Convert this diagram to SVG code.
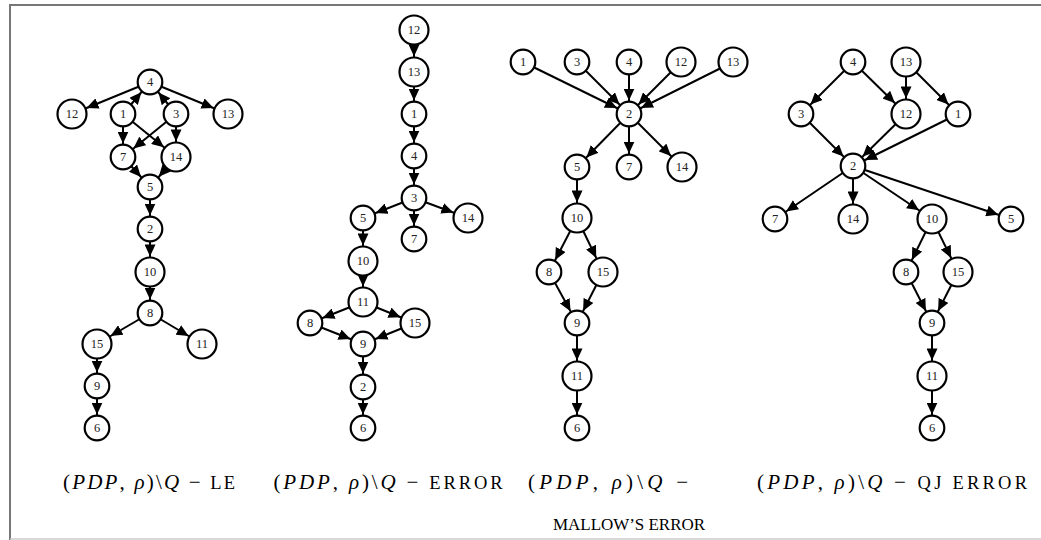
<svg xmlns="http://www.w3.org/2000/svg" width="1041" height="540" viewBox="0 0 1041 540">
<style>
.n circle{fill:#fff;stroke:#000;stroke-width:2.2}
.n text{font-family:"Liberation Serif",serif;font-size:12.5px;text-anchor:middle;fill:#222}
.e line{stroke:#000;stroke-width:2}
.es{marker-end:url(#as)}
.ed{marker-end:url(#ad)}
.cap{font-family:"Liberation Serif",serif;font-size:21px;text-anchor:middle;fill:#000}
.it{font-style:italic}
.sc{font-size:18.5px}
.sc2{font-size:17px}
</style>
<defs>
<marker id="as" markerUnits="userSpaceOnUse" markerWidth="13" markerHeight="11" refX="25.4" refY="5.5" orient="auto"><path d="M0,0 L12,5.5 L0,11 z" fill="#000"/></marker>
<marker id="ad" markerUnits="userSpaceOnUse" markerWidth="13" markerHeight="11" refX="27.6" refY="5.5" orient="auto"><path d="M0,0 L12,5.5 L0,11 z" fill="#000"/></marker>
</defs>
<rect width="1041" height="540" fill="#fff"/>
<g id="frame" fill="none">
<line x1="9" y1="5" x2="1041" y2="5" stroke="#777" stroke-width="1.8"/>
<line x1="10" y1="5" x2="10" y2="540" stroke="#777" stroke-width="2"/>
<line x1="10" y1="539" x2="1041" y2="539" stroke="#ccc" stroke-width="1.5"/>
</g>
<g id="connectors" class="e">
<!-- graph 1 -->
<line class="ed" x1="150" y1="82" x2="72" y2="114"/>
<line class="ed" x1="150" y1="82" x2="228" y2="114"/>
<line class="es" x1="123" y1="114" x2="150" y2="82"/>
<line class="es" x1="176" y1="114" x2="150" y2="82"/>
<line class="es" x1="123" y1="114" x2="123" y2="157"/>
<line class="ed" x1="123" y1="114" x2="176" y2="157"/>
<line class="es" x1="176" y1="114" x2="123" y2="157"/>
<line class="ed" x1="176" y1="114" x2="176" y2="157"/>
<line class="es" x1="123" y1="157" x2="150" y2="187"/>
<line class="es" x1="176" y1="157" x2="150" y2="187"/>
<line class="es" x1="150" y1="187" x2="150" y2="229"/>
<line class="ed" x1="150" y1="229" x2="150" y2="272"/>
<line class="es" x1="150" y1="272" x2="150" y2="313"/>
<line class="ed" x1="150" y1="313" x2="97" y2="344"/>
<line class="ed" x1="150" y1="313" x2="202" y2="344"/>
<line class="es" x1="97" y1="344" x2="97" y2="386"/>
<line class="es" x1="97" y1="386" x2="97" y2="428"/>
<!-- graph 2 -->
<line class="ed" x1="414" y1="30" x2="414" y2="72"/>
<line class="es" x1="414" y1="72" x2="414" y2="114"/>
<line class="es" x1="414" y1="114" x2="414" y2="156"/>
<line class="es" x1="414" y1="156" x2="414" y2="198"/>
<line class="es" x1="414" y1="198" x2="363" y2="218"/>
<line class="es" x1="414" y1="198" x2="414" y2="239"/>
<line class="ed" x1="414" y1="198" x2="468" y2="218"/>
<line class="ed" x1="363" y1="218" x2="363" y2="261"/>
<line class="ed" x1="363" y1="261" x2="363" y2="302"/>
<line class="es" x1="363" y1="302" x2="310" y2="323"/>
<line class="ed" x1="363" y1="302" x2="415" y2="323"/>
<line class="es" x1="310" y1="323" x2="363" y2="344"/>
<line class="es" x1="415" y1="323" x2="363" y2="344"/>
<line class="es" x1="363" y1="344" x2="363" y2="387"/>
<line class="es" x1="363" y1="387" x2="363" y2="428"/>
<!-- graph 3 -->
<line class="es" x1="523" y1="62" x2="629" y2="114"/>
<line class="es" x1="577" y1="62" x2="629" y2="114"/>
<line class="es" x1="629" y1="62" x2="629" y2="114"/>
<line class="es" x1="681" y1="62" x2="629" y2="114"/>
<line class="es" x1="733" y1="62" x2="629" y2="114"/>
<line class="es" x1="629" y1="114" x2="577" y2="167"/>
<line class="es" x1="629" y1="114" x2="629" y2="167"/>
<line class="ed" x1="629" y1="114" x2="682" y2="167"/>
<line class="ed" x1="577" y1="167" x2="577" y2="218"/>
<line class="es" x1="577" y1="218" x2="549" y2="272"/>
<line class="ed" x1="577" y1="218" x2="603" y2="272"/>
<line class="es" x1="549" y1="272" x2="577" y2="323"/>
<line class="es" x1="603" y1="272" x2="577" y2="323"/>
<line class="ed" x1="577" y1="323" x2="577" y2="376"/>
<line class="es" x1="577" y1="376" x2="577" y2="428"/>
<!-- graph 4 -->
<line class="es" x1="853" y1="62" x2="801" y2="114"/>
<line class="ed" x1="853" y1="62" x2="906" y2="114"/>
<line class="ed" x1="906" y1="62" x2="906" y2="114"/>
<line class="es" x1="906" y1="62" x2="958" y2="114"/>
<line class="es" x1="801" y1="114" x2="853" y2="166"/>
<line class="es" x1="906" y1="114" x2="853" y2="166"/>
<line class="es" x1="958" y1="114" x2="853" y2="166"/>
<line class="es" x1="853" y1="166" x2="775" y2="219"/>
<line class="ed" x1="853" y1="166" x2="853" y2="219"/>
<line class="ed" x1="853" y1="166" x2="932" y2="219"/>
<line class="es" x1="853" y1="166" x2="1011" y2="219"/>
<line class="es" x1="932" y1="219" x2="906" y2="272"/>
<line class="ed" x1="932" y1="219" x2="958" y2="272"/>
<line class="es" x1="906" y1="272" x2="932" y2="323"/>
<line class="es" x1="958" y1="272" x2="932" y2="323"/>
<line class="ed" x1="932" y1="323" x2="932" y2="376"/>
<line class="es" x1="932" y1="376" x2="932" y2="428"/>
</g>
<!-- graph 1 nodes -->
<g id="g1-4" class="n"><circle cx="150" cy="82" r="12.3"/><text x="150" y="86">4</text></g>
<g id="g1-12" class="n"><circle cx="72" cy="114" r="14.5"/><text x="72" y="118">12</text></g>
<g id="g1-1" class="n"><circle cx="123" cy="114" r="12.3"/><text x="123" y="118">1</text></g>
<g id="g1-3" class="n"><circle cx="176" cy="114" r="12.3"/><text x="176" y="118">3</text></g>
<g id="g1-13" class="n"><circle cx="228" cy="114" r="14.5"/><text x="228" y="118">13</text></g>
<g id="g1-7" class="n"><circle cx="123" cy="157" r="12.3"/><text x="123" y="161">7</text></g>
<g id="g1-14" class="n"><circle cx="176" cy="157" r="14.5"/><text x="176" y="161">14</text></g>
<g id="g1-5" class="n"><circle cx="150" cy="187" r="12.3"/><text x="150" y="191">5</text></g>
<g id="g1-2" class="n"><circle cx="150" cy="229" r="12.3"/><text x="150" y="233">2</text></g>
<g id="g1-10" class="n"><circle cx="150" cy="272" r="14.5"/><text x="150" y="276">10</text></g>
<g id="g1-8" class="n"><circle cx="150" cy="313" r="12.3"/><text x="150" y="317">8</text></g>
<g id="g1-15" class="n"><circle cx="97" cy="344" r="14.5"/><text x="97" y="348">15</text></g>
<g id="g1-11" class="n"><circle cx="202" cy="344" r="14.5"/><text x="202" y="348">11</text></g>
<g id="g1-9" class="n"><circle cx="97" cy="386" r="12.3"/><text x="97" y="390">9</text></g>
<g id="g1-6" class="n"><circle cx="97" cy="428" r="12.3"/><text x="97" y="432">6</text></g>
<!-- graph 2 nodes -->
<g id="g2-12" class="n"><circle cx="414" cy="30" r="14.5"/><text x="414" y="34">12</text></g>
<g id="g2-13" class="n"><circle cx="414" cy="72" r="14.5"/><text x="414" y="76">13</text></g>
<g id="g2-1" class="n"><circle cx="414" cy="114" r="12.3"/><text x="414" y="118">1</text></g>
<g id="g2-4" class="n"><circle cx="414" cy="156" r="12.3"/><text x="414" y="160">4</text></g>
<g id="g2-3" class="n"><circle cx="414" cy="198" r="12.3"/><text x="414" y="202">3</text></g>
<g id="g2-5" class="n"><circle cx="363" cy="218" r="12.3"/><text x="363" y="222">5</text></g>
<g id="g2-14" class="n"><circle cx="468" cy="218" r="14.5"/><text x="468" y="222">14</text></g>
<g id="g2-7" class="n"><circle cx="414" cy="239" r="12.3"/><text x="414" y="243">7</text></g>
<g id="g2-10" class="n"><circle cx="363" cy="261" r="14.5"/><text x="363" y="265">10</text></g>
<g id="g2-11" class="n"><circle cx="363" cy="302" r="14.5"/><text x="363" y="306">11</text></g>
<g id="g2-8" class="n"><circle cx="310" cy="323" r="12.3"/><text x="310" y="327">8</text></g>
<g id="g2-15" class="n"><circle cx="415" cy="323" r="14.5"/><text x="415" y="327">15</text></g>
<g id="g2-9" class="n"><circle cx="363" cy="344" r="12.3"/><text x="363" y="348">9</text></g>
<g id="g2-2" class="n"><circle cx="363" cy="387" r="12.3"/><text x="363" y="391">2</text></g>
<g id="g2-6" class="n"><circle cx="363" cy="428" r="12.3"/><text x="363" y="432">6</text></g>
<!-- graph 3 nodes -->
<g id="g3-1" class="n"><circle cx="523" cy="62" r="12.3"/><text x="523" y="66">1</text></g>
<g id="g3-3" class="n"><circle cx="577" cy="62" r="12.3"/><text x="577" y="66">3</text></g>
<g id="g3-4" class="n"><circle cx="629" cy="62" r="12.3"/><text x="629" y="66">4</text></g>
<g id="g3-12" class="n"><circle cx="681" cy="62" r="14.5"/><text x="681" y="66">12</text></g>
<g id="g3-13" class="n"><circle cx="733" cy="62" r="14.5"/><text x="733" y="66">13</text></g>
<g id="g3-2" class="n"><circle cx="629" cy="114" r="12.3"/><text x="629" y="118">2</text></g>
<g id="g3-5" class="n"><circle cx="577" cy="167" r="12.3"/><text x="577" y="171">5</text></g>
<g id="g3-7" class="n"><circle cx="629" cy="167" r="12.3"/><text x="629" y="171">7</text></g>
<g id="g3-14" class="n"><circle cx="682" cy="167" r="14.5"/><text x="682" y="171">14</text></g>
<g id="g3-10" class="n"><circle cx="577" cy="218" r="14.5"/><text x="577" y="222">10</text></g>
<g id="g3-8" class="n"><circle cx="549" cy="272" r="12.3"/><text x="549" y="276">8</text></g>
<g id="g3-15" class="n"><circle cx="603" cy="272" r="14.5"/><text x="603" y="276">15</text></g>
<g id="g3-9" class="n"><circle cx="577" cy="323" r="12.3"/><text x="577" y="327">9</text></g>
<g id="g3-11" class="n"><circle cx="577" cy="376" r="14.5"/><text x="577" y="380">11</text></g>
<g id="g3-6" class="n"><circle cx="577" cy="428" r="12.3"/><text x="577" y="432">6</text></g>
<!-- graph 4 nodes -->
<g id="g4-4" class="n"><circle cx="853" cy="62" r="12.3"/><text x="853" y="66">4</text></g>
<g id="g4-13" class="n"><circle cx="906" cy="62" r="14.5"/><text x="906" y="66">13</text></g>
<g id="g4-3" class="n"><circle cx="801" cy="114" r="12.3"/><text x="801" y="118">3</text></g>
<g id="g4-12" class="n"><circle cx="906" cy="114" r="14.5"/><text x="906" y="118">12</text></g>
<g id="g4-1" class="n"><circle cx="958" cy="114" r="12.3"/><text x="958" y="118">1</text></g>
<g id="g4-2" class="n"><circle cx="853" cy="166" r="12.3"/><text x="853" y="170">2</text></g>
<g id="g4-7" class="n"><circle cx="775" cy="219" r="12.3"/><text x="775" y="223">7</text></g>
<g id="g4-14" class="n"><circle cx="853" cy="219" r="14.5"/><text x="853" y="223">14</text></g>
<g id="g4-10" class="n"><circle cx="932" cy="219" r="14.5"/><text x="932" y="223">10</text></g>
<g id="g4-5" class="n"><circle cx="1011" cy="219" r="12.3"/><text x="1011" y="223">5</text></g>
<g id="g4-8" class="n"><circle cx="906" cy="272" r="12.3"/><text x="906" y="276">8</text></g>
<g id="g4-15" class="n"><circle cx="958" cy="272" r="14.5"/><text x="958" y="276">15</text></g>
<g id="g4-9" class="n"><circle cx="932" cy="323" r="12.3"/><text x="932" y="327">9</text></g>
<g id="g4-11" class="n"><circle cx="932" cy="376" r="14.5"/><text x="932" y="380">11</text></g>
<g id="g4-6" class="n"><circle cx="932" cy="428" r="12.3"/><text x="932" y="432">6</text></g>
<g id="captions" class="cap">
<text x="149" y="489" textLength="172" lengthAdjust="spacing">(<tspan class="it">PDP</tspan>, <tspan class="it">ρ</tspan>)\<tspan class="it">Q</tspan> − <tspan class="sc">LE</tspan></text>
<text x="388" y="489" textLength="229" lengthAdjust="spacing">(<tspan class="it">PDP</tspan>, <tspan class="it">ρ</tspan>)\<tspan class="it">Q</tspan> − <tspan class="sc">ERROR</tspan></text>
<text x="608" y="489" textLength="160" lengthAdjust="spacing">(<tspan class="it">PDP</tspan>, <tspan class="it">ρ</tspan>)\<tspan class="it">Q</tspan> −</text>
<text x="629" y="530" class="sc2" textLength="152" lengthAdjust="spacing">MALLOW’S ERROR</text>
<text x="892" y="489" textLength="270" lengthAdjust="spacing">(<tspan class="it">PDP</tspan>, <tspan class="it">ρ</tspan>)\<tspan class="it">Q</tspan> − <tspan class="sc">QJ ERROR</tspan></text>
</g>
</svg>
